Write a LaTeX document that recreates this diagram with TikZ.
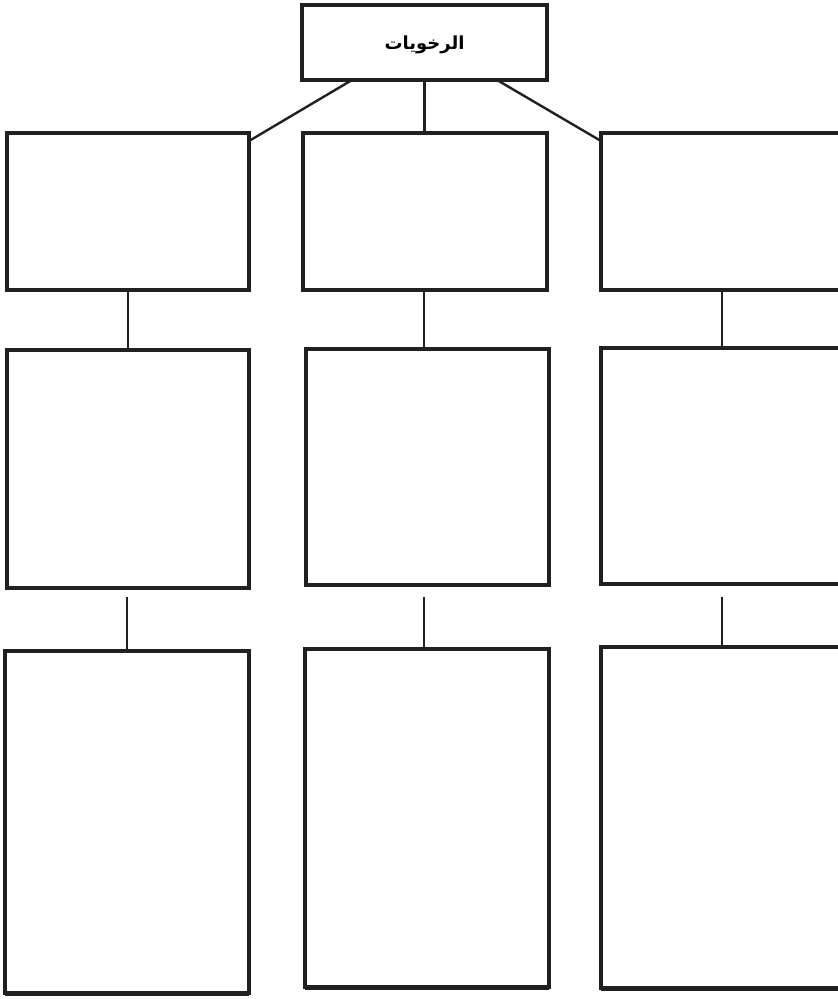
\documentclass[tikz,border=0pt]{standalone}
\usepackage{fontspec}
\newfontfamily\arabicfont[Script=Arabic]{DejaVu Sans}
\TeXXeTstate=1
\usetikzlibrary{calc}
\definecolor{ink}{HTML}{231F20}
\begin{document}
\begin{tikzpicture}[x=1pt,y=-1pt,
  box/.style={draw=ink, line width=3.2pt, inner sep=0pt, outer sep=0pt, anchor=north west},
  link/.style={draw=ink, line width=2.4pt}]
\useasboundingbox (0,0) rectangle (838,999);
\clip (0,0) rectangle (838,999);
% top box
\node[box, minimum width=245pt, minimum height=75pt] (top) at (302,5) {};
\node at ($(top.center)+(0,2)$) {\fontsize{18}{21}\selectfont\arabicfont\bfseries\beginR الرخويات\endR};
% row 1
\node[box, minimum width=242pt, minimum height=157pt] (r1l) at (7,133) {};
\node[box, minimum width=244pt, minimum height=157pt] (r1m) at (303,133) {};
\node[box, minimum width=250pt, minimum height=157pt] (r1r) at (601,133) {};
% row 2
\node[box, minimum width=242pt, minimum height=238pt] (r2l) at (7,350) {};
\node[box, minimum width=243pt, minimum height=236pt] (r2m) at (306,349) {};
\node[box, minimum width=250pt, minimum height=236pt] (r2r) at (601,348) {};
% row 3
\node[box, minimum width=244pt, minimum height=342pt] (r3l) at (5,651) {};
\node[box, minimum width=244pt, minimum height=338pt] (r3m) at (305,649) {};
\node[box, minimum width=250pt, minimum height=341pt] (r3r) at (601,647) {};
% thicker bottom edges of row 3
\draw[ink, line width=5pt] (r3l.south west) -- (r3l.south east);
\draw[ink, line width=5pt] (r3m.south west) -- (r3m.south east);
\draw[ink, line width=5pt] (r3r.south west) -- (r3r.south east);
% connectors from the top box
\draw[link] ($(top.south west)!0.204!(top.south east)$) -- ($(r1l.north east)+(0,8)$);
\draw[link] (top.south) -- (top.south |- r1m.north);
\draw[link] ($(top.south west)!0.796!(top.south east)$) -- ($(r1r.north west)+(0,8)$);
% row 1 to row 2
\draw[link] (r1l.south) -- (r1l.south |- r2l.north);
\draw[link] ($(r1m.south west)+(121,0)$) coordinate (c1m) -- (c1m |- r2m.north);
\draw[link] ($(r1r.south west)+(121,0)$) coordinate (c1r) -- (c1r |- r2r.north);
% row 2 to row 3
\draw[link] ($(r2l.south west)+(120,9)$) coordinate (c2l) -- (c2l |- r3l.north);
\draw[link] ($(r2m.south west)+(118,12)$) coordinate (c2m) -- (c2m |- r3m.north);
\draw[link] ($(r2r.south west)+(121,13)$) coordinate (c2r) -- (c2r |- r3r.north);
\end{tikzpicture}
\end{document}
